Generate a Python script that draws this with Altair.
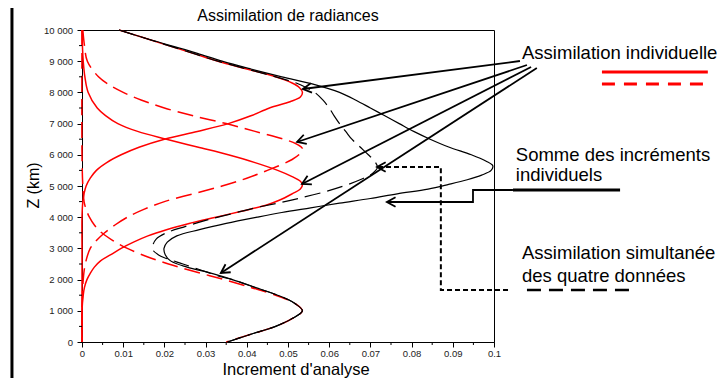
import math
import altair as alt
import pandas as pd

FONT = "Liberation Sans"

# ---------------- data ----------------
# individual assimilation, red solid, peak near 8000 m
a_z = [10000, 9750, 9500, 9250, 9000, 8750, 8500, 8300, 8150, 8000, 7850, 7700, 7500, 7250, 7000,
       6750, 6500, 6250, 6000, 5750, 5500, 5250, 5000, 4750, 4500, 4000, 3000, 2000, 1000, 0]
a_x = [0.009, 0.015, 0.021, 0.027, 0.033, 0.040, 0.047, 0.0510, 0.0528, 0.0535, 0.0530, 0.0505, 0.0455,
       0.041, 0.0355, 0.028, 0.020, 0.014, 0.0095, 0.006, 0.0035, 0.002, 0.001, 0.0005, 0.0002, 0, 0, 0, 0, 0]

# individual assimilation, red dashed, peak near 6200 m
b_z = [10000, 9500, 9000, 8500, 8250, 8000, 7750, 7500, 7250, 7000, 6750, 6500, 6350, 6200, 6050, 5850,
       5500, 5250, 5000, 4750, 4500, 4250, 4000, 3750, 3500, 3250, 3000, 2500, 2000, 1000, 0]
b_x = [0.0002, 0.0006, 0.0013, 0.004, 0.0065, 0.010, 0.0145, 0.020, 0.027, 0.035, 0.042, 0.049, 0.052,
       0.0535, 0.053, 0.051, 0.045, 0.040, 0.034, 0.027, 0.020, 0.015, 0.011, 0.008, 0.0055, 0.0035,
       0.002, 0.0008, 0.0003, 0, 0]

# individual assimilation, red solid, peak near 5000 m
c_z = [10000, 9500, 9000, 8500, 8000, 7500, 7250, 7000, 6750, 6500, 6250, 6000, 5750, 5500, 5300, 5150,
       5050, 4900, 4750, 4550, 4400, 4200, 4000, 3800, 3600, 3400, 3200, 3000, 2800, 2600, 2400, 2200,
       2000, 1750, 1500, 1000, 0]
c_x = [0, 0.0001, 0.0003, 0.0007, 0.0015, 0.0037, 0.0058, 0.0087, 0.0135, 0.0205, 0.028, 0.0355, 0.042,
       0.0475, 0.051, 0.053, 0.0535, 0.053, 0.051, 0.048, 0.045, 0.039, 0.0325, 0.026, 0.0205, 0.016,
       0.0125, 0.0095, 0.007, 0.0045, 0.003, 0.002, 0.0012, 0.0006, 0.0003, 0, 0]

# individual assimilation, red dashed, peak near 1000 m
d_z = [10000, 6000, 5000, 4500, 4250, 4000, 3750, 3500, 3250, 3000, 2750, 2500, 2250, 2000, 1750, 1500,
       1250, 1000, 750, 500, 250, 0]
d_x = [0, 0, 0.0002, 0.0005, 0.001, 0.0018, 0.003, 0.0048, 0.0075, 0.011, 0.0155, 0.021, 0.0275, 0.0345,
       0.041, 0.047, 0.0515, 0.0535, 0.051, 0.047, 0.041, 0.035]

# sum of individual increments, black solid
s_z = [10000, 9750, 9500, 9250, 9000, 8750, 8500, 8250, 8000, 7750, 7500, 7250, 7000, 6750, 6500, 6250,
       6000, 5800, 5650, 5500, 5350, 5200, 5050, 4900, 4750, 4600, 4450, 4300, 4150, 4000, 3800, 3600,
       3400, 3200, 3000, 2800, 2600, 2400, 2200, 2000, 1750, 1500, 1250, 1000, 750, 500, 250, 0]
s_x = [0.009, 0.015, 0.0215, 0.028, 0.034, 0.041, 0.0485, 0.0565, 0.0625, 0.0665, 0.0700, 0.0735, 0.0770,
       0.0805, 0.0845, 0.0890, 0.0945, 0.0980, 0.0997, 0.0993, 0.0970, 0.0935, 0.0890, 0.0840, 0.0765,
       0.0700, 0.0625, 0.0555, 0.0485, 0.0425, 0.0350, 0.0285, 0.0230, 0.0207, 0.0199, 0.0202, 0.0215,
       0.0255, 0.0315, 0.0365, 0.0420, 0.0475, 0.0515, 0.0535, 0.0510, 0.0470, 0.0410, 0.0353]

# simultaneous assimilation of the four data, black dashed
m_z = [10000, 9750, 9500, 9250, 9000, 8750, 8500, 8300, 8150, 8000, 7750, 7500, 7250, 7000, 6750, 6500,
       6250, 6000, 5800, 5600, 5400, 5200, 5000, 4800, 4600, 4450, 4300, 4100, 3900, 3700, 3500, 3300,
       3100, 2950, 2800, 2700, 2500, 2300, 2100, 2000, 1750, 1500, 1250, 1000, 750, 500, 250, 0]
m_x = [0.009, 0.015, 0.021, 0.027, 0.033, 0.040, 0.047, 0.052, 0.0545, 0.0565, 0.0585, 0.060, 0.0612,
       0.0625, 0.064, 0.0655, 0.0675, 0.0695, 0.0710, 0.0717, 0.0705, 0.0675, 0.0635, 0.0585, 0.0525,
       0.0475, 0.0420, 0.0360, 0.0300, 0.0250, 0.0205, 0.0180, 0.0172, 0.0172, 0.0185, 0.0200, 0.0245,
       0.0290, 0.0335, 0.0365, 0.0420, 0.0475, 0.0515, 0.0535, 0.0510, 0.0470, 0.0410, 0.0353]

# axis ticks
x_major = [0, 0.01, 0.02, 0.03, 0.04, 0.05, 0.06, 0.07, 0.08, 0.09, 0.1]
x_minor = [0.005, 0.015, 0.025, 0.035, 0.045, 0.055, 0.065, 0.075, 0.085, 0.095]
y_major = [0, 1000, 2000, 3000, 4000, 5000, 6000, 7000, 8000, 9000, 10000]
y_minor = [500, 1500, 2500, 3500, 4500, 5500, 6500, 7500, 8500, 9500]

# annotations (data units)
arrow_x0 = [0.1063, 0.1080, 0.1090, 0.1104]
arrow_z0 = [9006, 8878, 8814, 8782]
arrow_x1 = [0.0536, 0.0522, 0.0534, 0.0337]
arrow_z1 = [8109, 6410, 5064, 2212]

sum_conn_x = [0.1046, 0.0949, 0.0949, 0.0740]
sum_conn_z = [4872, 4872, 4487, 4487]
sim_conn_x = [0.1034, 0.0871, 0.0871, 0.0716]
sim_conn_z = [1667, 1667, 5609, 5609]

legend_text = ["Assimilation individuelle", "Somme des incréments", "individuels",
               "Assimilation simultanée", "des quatre données"]
legend_text_x = [0.1068, 0.1053, 0.1053, 0.1068, 0.1068]
legend_text_z = [9263, 5994, 5353, 2853, 2115]

W, H = 412, 312
XD, ZD = [0, 0.1], [0, 10000]
PX_PER_X = W / (XD[1] - XD[0])
PX_PER_Z = H / (ZD[1] - ZD[0])

# ---------------- encodings ----------------
x_axis = alt.Axis(
    values=x_major, labelExpr="format(datum.value, '~g')", tickSize=5, tickColor="black",
    domainColor="black", labelFont=FONT, labelFontSize=9.5, labelColor="#222", labelPadding=1,
    grid=False, labelOverlap=False, labelFlush=False,
    title="Increment d'analyse", titleFont=FONT, titleFontSize=16.5, titleFontWeight="normal",
    titleColor="black", titleX=213.5, titleY=27, titleBaseline="middle", titleAlign="center",
)
y_axis = alt.Axis(
    values=y_major, labelExpr="replace(format(datum.value, ','), ',', ' ')", tickSize=5,
    tickColor="black", domainColor="black", labelFont=FONT, labelFontSize=9.5, labelColor="#222",
    labelPadding=4.5, grid=False, labelOverlap=False, labelFlush=False,
    title="Z (km)", titleFont=FONT, titleFontSize=16, titleFontWeight="normal", titleColor="black",
    titleX=-49, titleY=155, titleAngle=270, titleBaseline="middle", titleAlign="center",
)
X = alt.X("x:Q", scale=alt.Scale(domain=XD, nice=False, zero=False), axis=x_axis)
Y = alt.Y("z:Q", scale=alt.Scale(domain=ZD, nice=False, zero=False), axis=y_axis)


def curve(z, x, color, dash=None, width=1.5):
    df = pd.DataFrame({"z": z, "x": x, "i": list(range(len(z)))})
    kw = dict(color=color, strokeWidth=width, interpolate="catmull-rom")
    if dash:
        kw["strokeDash"] = dash
    return alt.Chart(df).mark_line(**kw).encode(x=X, y=Y, order=alt.Order("i:Q"))


layers = [
    curve(a_z, a_x, "#ff0000"),
    curve(b_z, b_x, "#ff0000", [16, 7]),
    curve(c_z, c_x, "#ff0000"),
    curve(d_z, d_x, "#ff0000", [16, 7]),
    curve(s_z, s_x, "black", None, 1.2),
    curve(m_z, m_x, "black", [16, 7], 1.2),
]

# minor ticks
layers.append(alt.Chart(pd.DataFrame({"x": x_minor})).mark_rule(color="black", strokeWidth=1).encode(
    x=X, y=alt.value(H), y2=alt.value(H + 3)))
layers.append(alt.Chart(pd.DataFrame({"z": y_minor})).mark_rule(color="black", strokeWidth=1).encode(
    y=Y, x=alt.value(0), x2=alt.value(-3)))

# left page border
layers.append(alt.Chart(pd.DataFrame({"x": [-0.0170], "z": [11000], "z2": [-1400]})).mark_rule(
    color="black", strokeWidth=3).encode(x=X, y=Y, y2="z2:Q"))

# title
layers.append(alt.Chart(pd.DataFrame({"x": [0.05], "z": [10449], "t": ["Assimilation de radiances"]})).mark_text(
    font=FONT, fontSize=16, color="black", align="center", baseline="middle").encode(x=X, y=Y, text="t:N"))


def angle_of(x0, z0, x1, z1):
    dx = (x1 - x0) * PX_PER_X
    dy = -(z1 - z0) * PX_PER_Z
    return math.degrees(math.atan2(dy, dx)) % 360


# arrows from "Assimilation individuelle"
arr = pd.DataFrame({"x": arrow_x0, "z": arrow_z0, "x2": arrow_x1, "z2": arrow_z1})
layers.append(alt.Chart(arr).mark_rule(color="black", strokeWidth=1.8).encode(
    x=X, y=Y, x2="x2:Q", y2="z2:Q"))

heads = pd.DataFrame({
    "x": arrow_x1 + [sum_conn_x[-1], sim_conn_x[-1]],
    "z": arrow_z1 + [sum_conn_z[-1], sim_conn_z[-1]],
    "a": [angle_of(a, b, c, d) for a, b, c, d in zip(arrow_x0, arrow_z0, arrow_x1, arrow_z1)]
         + [angle_of(sum_conn_x[-2], sum_conn_z[-2], sum_conn_x[-1], sum_conn_z[-1]),
            angle_of(sim_conn_x[-2], sim_conn_z[-2], sim_conn_x[-1], sim_conn_z[-1])],
})
layers.append(alt.Chart(heads).mark_point(
    shape="M -1 -0.55 L 0 0 L -1 0.55", filled=False, size=300, color="black", strokeWidth=1.8,
    opacity=1).encode(x=X, y=Y, angle=alt.Angle("a:Q", scale=None)))

# connectors
layers.append(alt.Chart(pd.DataFrame({"x": sum_conn_x, "z": sum_conn_z, "i": range(4)})).mark_line(
    color="black", strokeWidth=1.8).encode(x=X, y=Y, order=alt.Order("i:Q")))
layers.append(alt.Chart(pd.DataFrame({"x": sim_conn_x, "z": sim_conn_z, "i": range(4)})).mark_line(
    color="black", strokeWidth=2, strokeDash=[5, 3]).encode(x=X, y=Y, order=alt.Order("i:Q")))

# legend swatches
sw = pd.DataFrame({
    "x": [0.1262, 0.1262, 0.1046, 0.1080],
    "x2": [0.1519, 0.1519, 0.1306, 0.1335],
    "z": [8654, 8269, 4872, 1667],
    "k": ["rs", "rd", "bs", "bd"],
})
layers.append(alt.Chart(sw[sw.k == "rs"]).mark_rule(color="#ff0000", strokeWidth=3).encode(x=X, x2="x2:Q", y=Y))
layers.append(alt.Chart(sw[sw.k == "rd"]).mark_rule(color="#ff0000", strokeWidth=3, strokeDash=[13, 9]).encode(x=X, x2="x2:Q", y=Y))
layers.append(alt.Chart(sw[sw.k == "bs"]).mark_rule(color="black", strokeWidth=3).encode(x=X, x2="x2:Q", y=Y))
layers.append(alt.Chart(sw[sw.k == "bd"]).mark_rule(color="black", strokeWidth=2.5, strokeDash=[14, 8]).encode(x=X, x2="x2:Q", y=Y))

# legend texts
layers.append(alt.Chart(pd.DataFrame({"x": legend_text_x, "z": legend_text_z, "t": legend_text})).mark_text(
    font=FONT, fontSize=18.5, color="black", align="left", baseline="middle").encode(x=X, y=Y, text="t:N"))

chart = alt.layer(*layers).properties(
    width=W, height=H,
    autosize=alt.AutoSizeParams(type="none"),
    padding={"left": 74, "top": 22, "right": 223, "bottom": 38},
).configure_view(stroke="black", strokeWidth=1)

chart.save("out.html", embed_options={"renderer": "svg", "actions": False})
